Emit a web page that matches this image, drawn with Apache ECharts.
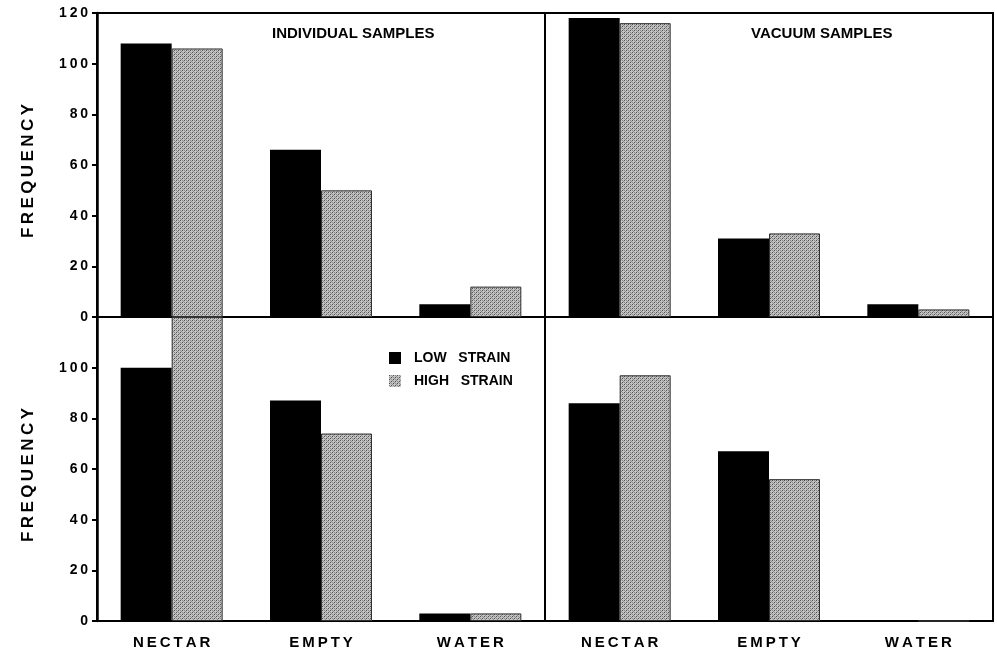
<!DOCTYPE html>
<html>
<head>
<meta charset="utf-8">
<script src="https://cdn.jsdelivr.net/npm/echarts@6/dist/echarts.min.js"></script>
<style>
html, body { margin: 0; padding: 0; background: #fff; }
#main { width: 997px; height: 654px; }
</style>
</head>
<body>
<div id="main"></div>
<script>
// 数据
var categories = ['NECTAR', 'EMPTY', 'WATER'];
var indivLowTop = [108, 66, 5];
var indivHighTop = [106, 50, 12];
var vacLowTop = [118, 31, 5];
var vacHighTop = [116, 33, 3];
var indivLowBottom = [100, 87, 3];
var indivHighBottom = [120, 74, 3];
var vacLowBottom = [86, 67, 0];
var vacHighBottom = [97, 56, 0];
var yTicks = [0, 20, 40, 60, 80, 100, 120];

var FONT = "'Liberation Sans Narrow', 'Liberation Sans', Arial, sans-serif";

// 灰色点状填充
var pat = document.createElement('canvas');
pat.width = 4;
pat.height = 4;
var ctx = pat.getContext('2d');
ctx.fillStyle = '#c4c4c4';
ctx.fillRect(0, 0, 4, 4);
ctx.fillStyle = '#505050';
ctx.fillRect(0, 0, 1, 1);
ctx.fillRect(2, 2, 1, 1);
ctx.fillStyle = '#8a8a8a';
ctx.fillRect(1, 3, 1, 1);
ctx.fillRect(3, 1, 1, 1);
ctx.fillRect(2, 0, 1, 1);
ctx.fillRect(0, 2, 1, 1);
var grayFill = { image: pat, repeat: 'repeat' };

function spaced(s, sep) {
    return String(s).split('').join(sep);
}

var grids = [
    { left: 97, top: 13, width: 448, height: 304 },
    { left: 545, top: 13, width: 448, height: 304 },
    { left: 97, top: 317, width: 448, height: 304 },
    { left: 545, top: 317, width: 448, height: 304 }
].map(function (g) {
    g.show = true;
    g.borderColor = '#000';
    g.borderWidth = 2;
    return g;
});

var xAxes = [0, 1, 2, 3].map(function (i) {
    var bottom = i >= 2;
    return {
        type: 'category',
        gridIndex: i,
        data: categories,
        axisLine: { show: true, lineStyle: { color: '#000', width: 2 } },
        axisTick: { show: false },
        axisLabel: {
            show: bottom,
            margin: 14,
            color: '#000',
            fontFamily: FONT,
            fontWeight: 'bold',
            fontSize: 15,
            formatter: function (v) { return spaced(v, '\u2009'); }
        },
        splitLine: { show: false }
    };
});

var yAxes = [0, 1, 2, 3].map(function (i) {
    var left = (i % 2 === 0);
    return {
        type: 'value',
        gridIndex: i,
        min: yTicks[0],
        max: yTicks[yTicks.length - 1],
        interval: 20,
        name: left ? spaced('FREQUENCY', '\u2009') : '',
        nameLocation: 'middle',
        nameGap: 60,
        nameRotate: 90,
        nameTextStyle: {
            color: '#000',
            fontFamily: "'Liberation Sans', Arial, sans-serif",
            fontWeight: 'bold',
            fontSize: 17,
            padding: [0, 0, 0, -12]
        },
        axisLine: { show: left, lineStyle: { color: '#000', width: 2.5 } },
        axisTick: { show: left, inside: false, length: 5, lineStyle: { color: '#000', width: 2 } },
        axisLabel: {
            show: left,
            margin: 9,
            color: '#000',
            fontFamily: "'Liberation Sans', Arial, sans-serif",
            fontWeight: 'bold',
            fontSize: 14,
            showMaxLabel: i < 2,
            formatter: function (v) { return spaced(v, '\u2009'); }
        },
        splitLine: { show: false }
    };
});

function barPair(idx, low, high) {
    return [{
        name: 'LOW   STRAIN',
        type: 'bar',
        xAxisIndex: idx,
        yAxisIndex: idx,
        data: low,
        barWidth: 51,
        barGap: '0%',
        itemStyle: { color: '#000' }
    }, {
        name: 'HIGH   STRAIN',
        type: 'bar',
        xAxisIndex: idx,
        yAxisIndex: idx,
        data: high,
        barWidth: 51,
        barGap: '0%',
        itemStyle: { color: grayFill, borderColor: '#333', borderWidth: 1 }
    }];
}

var myChart = echarts.init(document.getElementById('main'));
var option = {
    backgroundColor: '#fff',
    animation: false,
    title: [{
        text: 'INDIVIDUAL SAMPLES',
        left: 267,
        top: 21,
        textStyle: { fontFamily: FONT, fontWeight: 'bold', fontSize: 15, color: '#000' }
    }, {
        text: 'VACUUM SAMPLES',
        left: 746,
        top: 21,
        textStyle: { fontFamily: FONT, fontWeight: 'bold', fontSize: 15, color: '#000' }
    }],
    legend: {
        orient: 'vertical',
        left: 384,
        top: 346,
        itemWidth: 12,
        itemHeight: 12,
        itemGap: 9,
        icon: 'rect',
        data: ['LOW   STRAIN', {
            name: 'HIGH   STRAIN',
            itemStyle: { borderWidth: 0 }
        }],
        textStyle: {
            fontFamily: FONT,
            fontWeight: 'bold',
            fontSize: 14,
            color: '#000',
            padding: [0, 0, 0, 8]
        }
    },
    grid: grids,
    xAxis: xAxes,
    yAxis: yAxes,
    series: [].concat(
        barPair(0, indivLowTop, indivHighTop),
        barPair(1, vacLowTop, vacHighTop),
        barPair(2, indivLowBottom, indivHighBottom),
        barPair(3, vacLowBottom, vacHighBottom)
    )
};

myChart.setOption(option);
</script>
</body>
</html>
